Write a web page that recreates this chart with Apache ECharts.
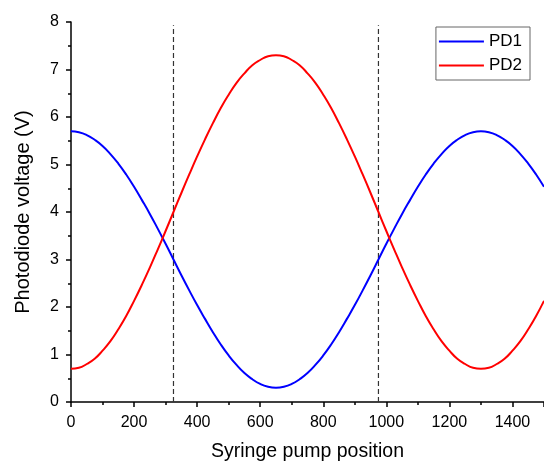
<!DOCTYPE html>
<html><head><meta charset="utf-8">
<script src="https://cdn.jsdelivr.net/npm/echarts@6/dist/echarts.min.js"></script>
<style>html,body{margin:0;padding:0;background:#fff}#c{width:544px;height:462px}</style>
</head><body><div id="c"></div>
<script>
const xPos = [0,25,50,75,100,125,150,175,200,225,250,275,300,325,350,375,400,425,450,475,500,525,550,575,600,625,650,
  675,700,725,750,775,800,825,850,875,900,925,950,975,1000,1025,1050,1075,1100,1125,1150,1175,1200,1225,1250,1275,1300,
  1325,1350,1375,1400,1425,1450,1475,1500];
const pd1 = [5.70,5.68,5.62,5.52,5.39,5.22,5.02,4.79,4.53,4.25,3.96,3.65,3.33,3.00,2.67,2.35,2.04,1.75,1.47,1.21,0.98,0.78,0.61,0.48,0.38,0.32,0.30,
  0.32,0.38,0.48,0.61,0.78,0.98,1.21,1.47,1.75,2.04,2.35,2.67,3.00,3.33,3.65,3.96,4.25,4.53,4.79,5.02,5.22,5.39,5.52,5.62,5.68,5.70,
  5.68,5.62,5.52,5.39,5.22,5.02,4.79,4.53];
const pd2 = [0.70,0.72,0.80,0.91,1.08,1.28,1.53,1.81,2.13,2.47,2.83,3.21,3.60,4.00,4.40,4.79,5.17,5.53,5.87,6.19,6.47,6.72,6.92,7.09,7.20,7.28,7.30,
  7.28,7.20,7.09,6.92,6.72,6.47,6.19,5.87,5.53,5.17,4.79,4.40,4.00,3.60,3.21,2.83,2.47,2.13,1.81,1.53,1.28,1.08,0.91,0.80,0.72,0.70,
  0.72,0.80,0.91,1.08,1.28,1.53,1.81,2.13];
const dashX = [325, 975];
const dashY = [0, 7.93];
const seriesNames = ['PD1','PD2'];
const yRange = [0, 8];

const font = 'Liberation Sans, Arial, sans-serif';
const chart = echarts.init(document.getElementById('c'), null, {renderer:'canvas'});
const series = [
  {name: seriesNames[0], type:'line', smooth:true, symbol:'none', data: xPos.map((x,i)=>[x,pd1[i]]), lineStyle:{color:'#0000ff', width:2}, itemStyle:{color:'#0000ff'}, z:3},
  {name: seriesNames[1], type:'line', smooth:true, symbol:'none', data: xPos.map((x,i)=>[x,pd2[i]]), lineStyle:{color:'#ff0000', width:2}, itemStyle:{color:'#ff0000'}, z:3}
];
dashX.forEach(x => series.push({type:'line', symbol:'none', silent:true, data:[[x,dashY[0]],[x,dashY[1]]], lineStyle:{color:'#333', width:1.2, type:[5,3]}, z:2}));

chart.setOption({
  animation:false,
  grid:{left:71, right:0, top:22, bottom:60, containLabel:false, outerBoundsMode:'none'},
  legend:{data:seriesNames, right:14, top:27, orient:'vertical', icon:'rect', itemWidth:45, itemHeight:2, itemGap:7,
    borderColor:'#666', borderWidth:1, padding:[6,8,6,3], textStyle:{fontFamily:font, fontSize:17, color:'#000'}},
  xAxis:{type:'value', min:0, max:1500, interval:200, name:'Syringe pump position', nameLocation:'middle', nameGap:40,
    nameTextStyle:{fontFamily:font, fontSize:19.5, color:'#000'},
    axisLine:{lineStyle:{color:'#000', width:1.5}}, axisTick:{show:true, length:5, lineStyle:{color:'#000', width:1.5}},
    minorTick:{show:true, splitNumber:2, length:3, lineStyle:{color:'#000', width:1.5}},
    axisLabel:{fontFamily:font, fontSize:16, color:'#000', margin:13, showMaxLabel:false, formatter: v => String(v)}, splitLine:{show:false}},
  yAxis:{type:'value', min:yRange[0], max:yRange[1], interval:1, name:'Photodiode voltage (V)', nameLocation:'middle', nameGap:38,
    nameTextStyle:{fontFamily:font, fontSize:20, color:'#000'},
    axisLine:{show:true, lineStyle:{color:'#000', width:1.5}}, axisTick:{show:true, length:5, lineStyle:{color:'#000', width:1.5}},
    minorTick:{show:true, splitNumber:2, length:3, lineStyle:{color:'#000', width:1.5}},
    axisLabel:{fontFamily:font, fontSize:16, color:'#000', margin:12}, splitLine:{show:false}},
  series: series
});
</script></body></html>
